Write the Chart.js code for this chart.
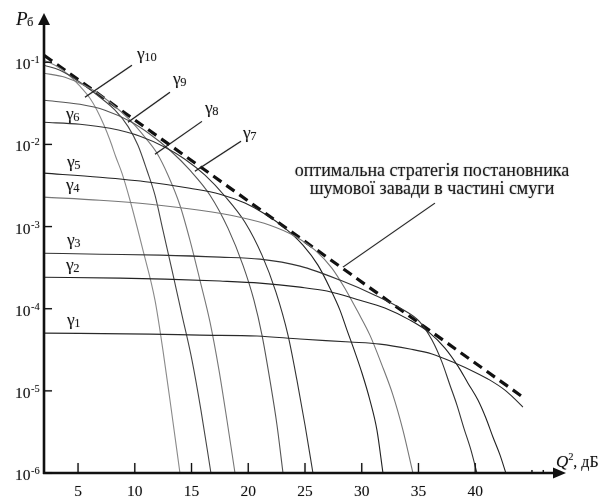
<!DOCTYPE html>
<html>
<head>
<meta charset="utf-8">
<script src="https://cdn.jsdelivr.net/npm/chart.js@4.4.0/dist/chart.umd.min.js"></script>
<style>
html,body{margin:0;padding:0;background:#fff;}
#wrap{width:611px;height:499px;position:relative;}
</style>
</head>
<body>
<div id="wrap"><canvas id="myCanvas"></canvas></div>
<script>
// Q^2, дБ  / P_б (log)
var xTicks = [5,10,15,20,25,30,35,40];
var yTicks = [1e-1,1e-2,1e-3,1e-4,1e-5,1e-6];
var yTickExp = ["-1","-2","-3","-4","-5","-6"];

// optimal strategy (dashed)
var envX = [2, 44.2];
var envP = [0.122, 8.4e-6];

var g10X = [2.0, 2.97, 4.11, 5.17, 6.05, 6.67, 7.29, 7.81, 8.34, 8.87, 9.58, 10.72, 11.78, 12.48, 13.1, 13.98];
var g10P = [0.106, 0.0919, 0.0715, 0.0511, 0.0365, 0.0261, 0.0171, 0.0113, 0.00698, 0.00447, 0.00209, 5.16e-4, 1.27e-4, 3.13e-5, 7.73e-6, 1e-6];

var g9X = [2.0, 3.41, 5.17, 6.93, 8.26, 9.40, 10.28, 11.07, 11.78, 12.48, 13.28, 14.16, 15.04, 15.83, 16.71];
var g9P = [0.0919, 0.0799, 0.0571, 0.0375, 0.0261, 0.0166, 0.00977, 0.00485, 0.00241, 9.04e-4, 2.95e-4, 8.36e-5, 2.37e-5, 5.84e-6, 1e-6];

var g8X = [2.0, 3.85, 6.05, 7.81, 9.58, 10.90, 11.96, 12.93, 13.98, 14.86, 15.74, 16.63, 17.42, 18.12, 18.83];
var g8P = [0.0735, 0.0657, 0.0483, 0.0326, 0.0197, 0.0122, 0.00781, 0.00422, 0.00182, 6.84e-4, 2.23e-4, 6.87e-5, 1.79e-5, 4.42e-6, 1e-6];

var g7X = [2.0, 5.17, 7.37, 9.58, 11.34, 13.10, 14.86, 16.63, 18.21, 19.53, 20.50, 21.21, 21.91, 22.53, 23.06];
var g7P = [0.0345, 0.0308, 0.0261, 0.0191, 0.0133, 0.00849, 0.00485, 0.00241, 9.57e-4, 3.39e-4, 1.27e-4, 4.77e-5, 1.35e-5, 3.84e-6, 1e-6];

var g6X = [2.0, 5.17, 7.81, 10.46, 12.66, 14.42, 16.19, 17.95, 19.71, 21.21, 22.44, 23.50, 24.29, 25.00, 25.70];
var g6P = [0.0186, 0.0176, 0.0157, 0.0126, 0.00925, 0.00661, 0.00422, 0.00234, 0.00113, 4.49e-4, 1.59e-4, 4.77e-5, 1.35e-5, 3.84e-6, 1e-6];

var g5X = [2.0, 6.93, 11.34, 14.86, 17.51, 19.71, 21.47, 23.23, 24.82, 26.14, 27.20, 28.08, 28.70, 29.40, 30.02, 30.72, 31.34, 31.87];
var g5P = [0.00447, 0.00399, 0.00347, 0.00293, 0.00248, 0.00193, 0.00142, 9.57e-4, 5.94e-4, 3.39e-4, 1.78e-4, 9.62e-5, 5.49e-5, 2.96e-5, 1.65e-5, 7.73e-6, 3.33e-6, 1e-6];

var g4X = [2.0, 6.93, 11.34, 15.74, 19.27, 21.91, 24.11, 25.88, 27.37, 28.61, 29.67, 30.72, 31.78, 32.75, 33.63, 34.51];
var g4P = [0.00228, 0.00209, 0.00187, 0.00158, 0.00130, 0.00104, 7.64e-4, 5.16e-4, 3.12e-4, 1.68e-4, 9.09e-5, 4.77e-5, 2.06e-5, 8.89e-6, 3.33e-6, 1e-6];

var g3X = [2.0, 6.93, 12.22, 17.51, 21.03, 24.56, 28.08, 31.16, 33.37, 35.13, 36.19, 37.07, 37.77, 38.39, 39.00, 39.62, 40.15];
var g3P = [4.74e-4, 4.61e-4, 4.49e-4, 4.25e-4, 4.01e-4, 3.30e-4, 2.23e-4, 1.46e-4, 1.02e-4, 6.87e-5, 4.15e-5, 2.24e-5, 1.18e-5, 6.71e-6, 3.52e-6, 1.91e-6, 1e-6];

var g2X = [2.0, 8.70, 12.66, 17.51, 21.03, 24.56, 26.93, 29.84, 32.04, 34.25, 36.01, 37.33, 38.48, 39.36, 40.24, 40.94, 41.56, 42.18, 42.70];
var g2P = [2.42e-4, 2.36e-4, 2.29e-4, 2.17e-4, 2.05e-4, 1.83e-4, 1.64e-4, 1.27e-4, 1.02e-4, 7.26e-5, 5.05e-5, 3.32e-5, 2.00e-5, 1.24e-5, 7.73e-6, 4.67e-6, 2.74e-6, 1.66e-6, 1e-6];

var g1X = [2.0, 11.34, 15.74, 20.77, 24.56, 28.96, 31.60, 34.25, 36.19, 38.21, 39.97, 41.30, 42.62, 43.50, 44.20];
var g1P = [5.05e-5, 4.91e-5, 4.77e-5, 4.65e-5, 4.27e-5, 3.93e-5, 3.71e-5, 3.23e-5, 2.81e-5, 2.18e-5, 1.69e-5, 1.35e-5, 1.02e-5, 7.94e-6, 6.35e-6];

var curveNames = ["γ1","γ2","γ3","γ4","γ5","γ6","γ7","γ8","γ9","γ10"];

function pts(xs, ys){
    var out = [];
    for (var i = 0; i < xs.length; i++) out.push({x: xs[i], y: ys[i]});
    return out;
}

var curves = [
    [g1X, g1P, '#2a2a2a'],
    [g2X, g2P, '#222'],
    [g3X, g3P, '#333'],
    [g4X, g4P, '#777'],
    [g5X, g5P, '#222'],
    [g6X, g6P, '#333'],
    [g7X, g7P, '#555'],
    [g8X, g8P, '#777'],
    [g9X, g9P, '#444'],
    [g10X, g10P, '#8a8a8a']
];

var datasets = [];
curves.forEach(function(c, i){
    datasets.push({
        label: curveNames[i],
        data: pts(c[0], c[1]),
        borderColor: c[2],
        borderWidth: 1.1,
        pointRadius: 0,
        fill: false,
        cubicInterpolationMode: 'monotone'
    });
});
datasets.push({
    label: 'opt',
    data: pts(envX, envP),
    borderColor: '#111',
    borderWidth: 3.2,
    borderDash: [10, 6],
    pointRadius: 0,
    fill: false
});

// label anchors (data coords)
var gammaLabels = [
    {n: '1', x: 4.03, y: 6.31e-5},
    {n: '2', x: 3.94, y: 2.95e-4},
    {n: '3', x: 4.03, y: 5.94e-4},
    {n: '4', x: 3.94, y: 2.77e-3},
    {n: '5', x: 4.03, y: 5.28e-3},
    {n: '6', x: 3.94, y: 0.0203},
    {n: '7', x: 19.53, y: 0.01189},
    {n: '8', x: 16.19, y: 0.0240},
    {n: '9', x: 13.37, y: 0.054},
    {n: '10', x: 10.19, y: 0.1088}
];
var leaders = [
    [9.75, 0.0919, 5.61, 0.0375],
    [13.10, 0.0431, 9.40, 0.0186],
    [15.92, 0.0191, 11.78, 7.60e-3],
    [19.36, 0.01094, 15.30, 4.72e-3],
    [36.45, 1.93e-3, 28.34, 3.21e-4]
];

var decor = {
    id: 'decor',
    afterDatasetsDraw: function(chart){
        var ctx = chart.ctx, xs = chart.scales.x, ys = chart.scales.y, a = chart.chartArea;
        var serif = '"Liberation Serif", "DejaVu Serif", serif';
        ctx.save();
        ctx.strokeStyle = '#111';
        ctx.fillStyle = '#111';

        // axes
        ctx.lineWidth = 2.6;
        ctx.beginPath();
        ctx.moveTo(a.left, a.bottom + 1);
        ctx.lineTo(a.left, a.top + 8);
        ctx.stroke();
        ctx.beginPath();
        ctx.moveTo(a.left - 1, a.bottom);
        ctx.lineTo(a.right - 8, a.bottom);
        ctx.stroke();
        ctx.beginPath();
        ctx.moveTo(a.left, a.top);
        ctx.lineTo(a.left - 6, a.top + 12);
        ctx.lineTo(a.left + 6, a.top + 12);
        ctx.closePath();
        ctx.fill();
        ctx.beginPath();
        ctx.moveTo(a.right, a.bottom);
        ctx.lineTo(a.right - 13, a.bottom - 5.5);
        ctx.lineTo(a.right - 13, a.bottom + 5.5);
        ctx.closePath();
        ctx.fill();

        // ticks
        ctx.lineWidth = 1.3;
        ctx.shadowColor = 'rgba(0,0,0,0.3)';
        ctx.shadowBlur = 1;
        yTicks.forEach(function(v, i){
            var y = ys.getPixelForValue(v);
            ctx.beginPath();
            ctx.moveTo(a.left, y);
            ctx.lineTo(a.left + 8, y);
            ctx.stroke();
            ctx.font = '15.5px ' + serif;
            ctx.textAlign = 'right';
            ctx.textBaseline = 'alphabetic';
            ctx.fillText('10', a.left - 13.5, y + 7);
            ctx.font = '10.5px ' + serif;
            ctx.textAlign = 'left';
            ctx.fillText(yTickExp[i], a.left - 13, y + 1);
        });
        xTicks.forEach(function(v){
            var x = xs.getPixelForValue(v);
            ctx.beginPath();
            ctx.moveTo(x, a.bottom);
            ctx.lineTo(x, a.bottom - 10);
            ctx.stroke();
            ctx.font = '15.5px ' + serif;
            ctx.textAlign = 'center';
            ctx.fillText(String(v), x, a.bottom + 23);
        });
        [45, 46].forEach(function(v){
            var x = xs.getPixelForValue(v);
            ctx.beginPath();
            ctx.moveTo(x, a.bottom);
            ctx.lineTo(x, a.bottom - 3);
            ctx.stroke();
        });

        // axis titles
        ctx.textAlign = 'left';
        ctx.font = 'italic 19px ' + serif;
        ctx.fillText('P', 16, 25);
        var pw = ctx.measureText('P').width;
        ctx.font = '12.5px ' + serif;
        ctx.fillText('б', 16 + pw - 0.5, 26);
        ctx.font = 'italic 17px ' + serif;
        ctx.fillText('Q', 556, 467);
        var qw = ctx.measureText('Q').width;
        ctx.font = '10.5px ' + serif;
        ctx.fillText('2', 556 + qw, 460);
        ctx.font = '16px ' + serif;
        ctx.fillText(', дБ', 556 + qw + 5, 467);

        // leaders
        ctx.lineWidth = 1.1;
        ctx.strokeStyle = '#222';
        leaders.forEach(function(l){
            ctx.beginPath();
            ctx.moveTo(xs.getPixelForValue(l[0]), ys.getPixelForValue(l[1]));
            ctx.lineTo(xs.getPixelForValue(l[2]), ys.getPixelForValue(l[3]));
            ctx.stroke();
        });

        // gamma labels
        ctx.fillStyle = '#1a1a1a';
        gammaLabels.forEach(function(g){
            var x = xs.getPixelForValue(g.x), y = ys.getPixelForValue(g.y);
            ctx.font = '17.5px ' + serif;
            ctx.textAlign = 'left';
            ctx.fillText('γ', x, y);
            var w = ctx.measureText('γ').width;
            ctx.font = '12.5px ' + serif;
            ctx.fillText(g.n, x + w - 0.5, y + 2);
        });

        // annotation
        ctx.font = '18px ' + serif;
        ctx.textAlign = 'center';
        ctx.shadowColor = 'rgba(0,0,0,0.4)';
        ctx.shadowBlur = 1.5;
        var cx = xs.getPixelForValue(36.19);
        ctx.fillText('оптимальна стратегія постановника', cx, ys.getPixelForValue(4.10e-3));
        ctx.fillText('шумової завади в частині смуги', cx, ys.getPixelForValue(2.48e-3));
        ctx.restore();
    }
};

var chart = new Chart(document.getElementById('myCanvas').getContext('2d'), {
    type: 'line',
    data: { datasets: datasets },
    options: {
        responsive: true,
        maintainAspectRatio: false,
        animation: false,
        layout: { padding: { left: 44, right: 45, top: 13, bottom: 26 } },
        plugins: { legend: { display: false }, tooltip: { enabled: false } },
        elements: { line: { tension: 0 } },
        scales: {
            x: { type: 'linear', min: 2, max: 48, display: false },
            y: { type: 'logarithmic', min: 1e-6, max: 0.398, display: false }
        }
    },
    plugins: [decor]
});
</script>
</body>
</html>
